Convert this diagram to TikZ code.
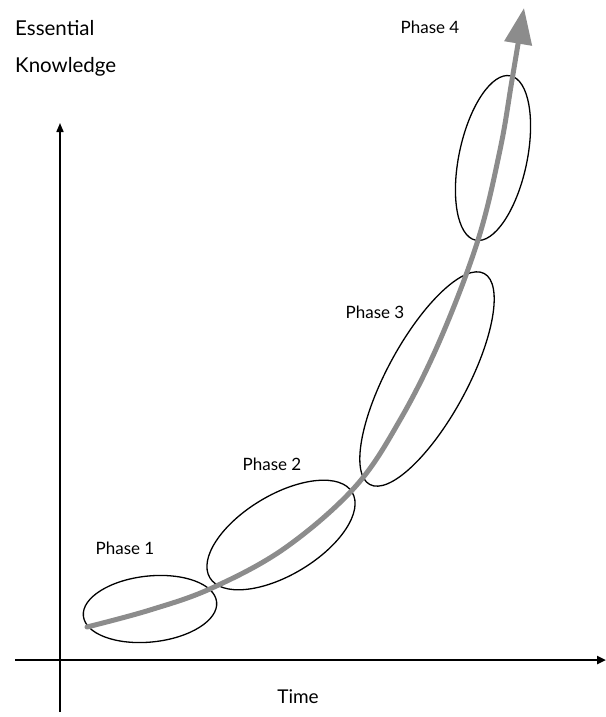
\documentclass[tikz,border=0pt]{standalone}
\usepackage{fontspec}
\setmainfont{Lato}
\usetikzlibrary{arrows.meta}
\begin{document}
\begin{tikzpicture}[x=1pt,y=-1pt,
  lbl/.style={font=\fontsize{17}{20}\selectfont, inner sep=0pt},
  biglbl/.style={font=\fontsize{20.5}{24}\selectfont, inner sep=0pt},
  axis/.style={line width=2.4pt, black},
  phase/.style={draw=black, line width=1.3pt},
  growth/.style={line width=5pt, draw=black!45, line cap=round}]
\useasboundingbox (0,0) rectangle (605,717);
% axes
\coordinate (yb) at (60,712);
\coordinate (yt) at (60,123);
\coordinate (xl) at (15,660);
\coordinate (xr) at (606,660);
\draw[axis, line width=1.6pt, -{Triangle[length=9pt,width=7pt]}] (yb) -- (yt);
\draw[axis, -{Triangle[length=9pt,width=8pt]}] (xl) -- (xr);
% labels
\node[biglbl, anchor=west] (ek1) at (15,28) {Essential};
\node[biglbl, anchor=west] (ek2) at (15,67) {Knowledge};
\node[font=\fontsize{19}{22}\selectfont, inner sep=0pt] (time) at (298,697) {Time};
\node[lbl] (p1) at (125,548) {Phase 1};
\node[lbl] (p2) at (272,464) {Phase 2};
\node[lbl] (p3) at (375,312) {Phase 3};
\node[lbl] (p4) at (430,27) {Phase 4};
% ellipses
\draw[phase, rotate around={6:(150,609)}] (150,609) ellipse [x radius=67, y radius=33];
\draw[phase, rotate around={31:(281,535)}] (281,535) ellipse [x radius=83, y radius=40];
\draw[phase, rotate around={61.5:(427,379)}] (427,379) ellipse [x radius=120, y radius=40];
\draw[phase, rotate around={78:(493,158)}] (493,158) ellipse [x radius=84, y radius=34];
% growth curve
\draw[growth, -{Triangle[length=36pt,width=27pt]}]
  plot[smooth, tension=0.6] coordinates {(87,627) (150,610) (212,588) (285,548) (355,487) (400,420) (440,340) (478,240) (500,150) (512,80) (524,8)};
\end{tikzpicture}
\end{document}
